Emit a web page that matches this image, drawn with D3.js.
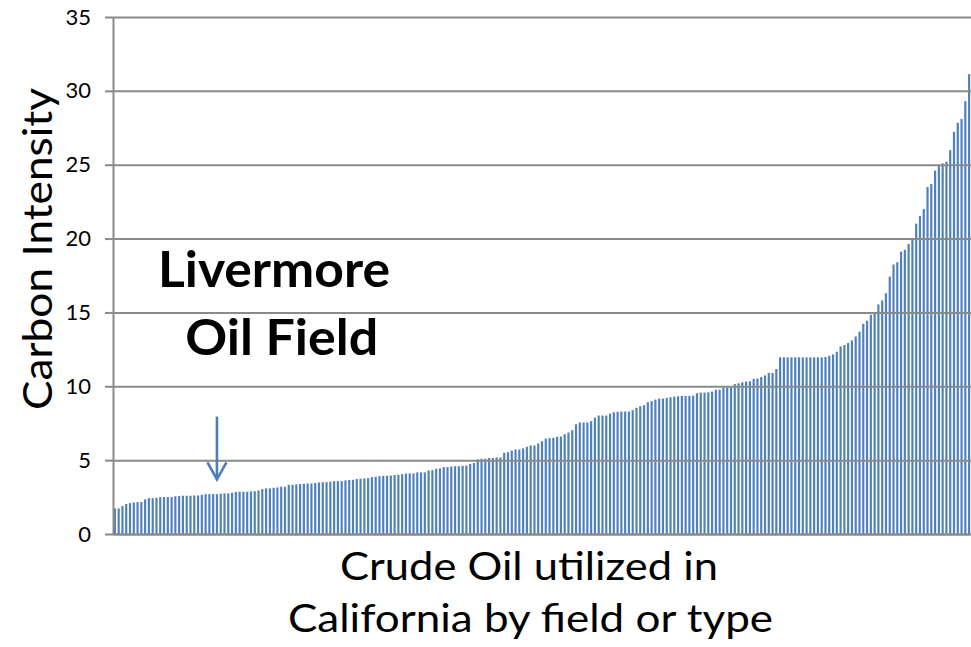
<!DOCTYPE html>
<html>
<head>
<meta charset="utf-8">
<script src="https://cdn.jsdelivr.net/npm/d3@7"></script>
<style>
  html, body { margin: 0; padding: 0; background: #fff; }
  svg { display: block; }
  text { font-family: Lato, "Open Sans", sans-serif; fill: #000; }
</style>
</head>
<body>
<svg id="chart" width="971" height="647"></svg>
<script>
// ---- data ----
const yTicks = [0, 5, 10, 15, 20, 25, 30, 35];
const yTitle = "Carbon Intensity";
const xTitleLines = ["Crude Oil utilized in", "California by field or type"];
const annotationLines = ["Livermore", "Oil Field"];
const livermoreIndex = 27;

const valuesLow = [
  1.73, 1.73, 1.89, 2.03, 2.09, 2.14, 2.16, 2.16, 2.34, 2.43, 2.43, 2.45, 2.50, 2.50, 2.50, 2.50,
  2.55, 2.57, 2.59, 2.59, 2.59, 2.61, 2.61, 2.66, 2.70, 2.70, 2.70, 2.70, 2.73, 2.75, 2.75, 2.79,
  2.84, 2.86, 2.86, 2.86, 2.88, 2.90, 2.95
];
const valuesLowMid = [
  3.04, 3.09, 3.09, 3.13, 3.15, 3.20, 3.20, 3.33, 3.33, 3.36, 3.38, 3.40, 3.42, 3.42, 3.45, 3.49,
  3.51, 3.51, 3.54, 3.58, 3.58, 3.58, 3.63, 3.65, 3.67, 3.72, 3.74, 3.76, 3.78, 3.85, 3.87, 3.92,
  3.94, 3.94, 3.96, 3.99, 4.01
];
const valuesMid = [
  4.05, 4.10, 4.10, 4.10, 4.17, 4.17, 4.17, 4.30, 4.32, 4.41, 4.44, 4.53, 4.53, 4.57, 4.59, 4.59,
  4.62, 4.64, 4.75, 4.80, 5.05, 5.09, 5.09, 5.14, 5.14, 5.18, 5.18, 5.50, 5.54, 5.65, 5.72, 5.72,
  5.79, 5.90, 5.99, 5.99, 6.13, 6.28, 6.46
];
const valuesUpperMid = [
  6.49, 6.51, 6.58, 6.60, 6.76, 6.87, 7.03, 7.43, 7.55, 7.55, 7.55, 7.64, 7.88, 8.02, 8.02, 8.02,
  8.15, 8.24, 8.27, 8.29, 8.29, 8.29, 8.38, 8.54, 8.65, 8.72, 8.92, 8.99, 9.10, 9.17, 9.17, 9.21,
  9.26, 9.30, 9.32, 9.35, 9.35, 9.35, 9.37, 9.53
];
const valuesHighMid = [
  9.57, 9.57, 9.59, 9.64, 9.77, 9.77, 9.91, 9.91, 9.91, 10.16, 10.20, 10.27, 10.32, 10.34, 10.50, 10.52,
  10.63, 10.74, 10.90, 10.90, 11.17, 11.96, 11.96, 11.96, 11.96, 11.96, 11.96, 11.96, 11.96, 11.96, 11.96, 11.96,
  11.96, 11.98, 12.07, 12.16, 12.34, 12.70, 12.79, 12.93
];
const valuesHigh = [
  13.10, 13.38, 13.70, 14.23, 14.44, 14.84, 14.98, 15.54, 15.81, 16.30, 17.43, 18.24, 18.40, 19.12, 19.24, 19.64,
  19.91, 21.01, 21.53, 22.00, 23.49, 23.70, 24.60, 24.98, 25.09, 25.20, 25.99, 27.23, 27.84, 28.10, 29.30, 31.13
];
const values = [].concat(valuesLow, valuesLowMid, valuesMid, valuesUpperMid, valuesHighMid, valuesHigh);
const categories = d3.range(values.length);

// ---- layout ----
const plotLeft = 113, plotRight = 971, plotTop = 17, plotBottom = 534;
const svg = d3.select("#chart");
const fontStack = 'Lato, "Open Sans", sans-serif';

const x = d3.scaleBand().domain(categories).range([plotLeft, plotRight])
  .paddingInner(0.42).paddingOuter(0.21);
const y = d3.scaleLinear().domain([0, 35]).range([plotBottom, plotTop]);

// bars
svg.append("g")
  .selectAll("rect")
  .data(values)
  .join("rect")
  .attr("x", (d, i) => x(i))
  .attr("width", x.bandwidth())
  .attr("y", d => y(d))
  .attr("height", d => y(0) - y(d))
  .attr("fill", "#4F81BD");

// gridlines
const grid = svg.append("g")
  .attr("transform", `translate(${plotLeft},0)`)
  .call(d3.axisLeft(y).tickValues(yTicks).tickSize(-(plotRight - plotLeft)).tickFormat("").tickSizeOuter(0));
grid.select(".domain").remove();
grid.selectAll("line").attr("stroke", "#8a8a8a").attr("stroke-width", 2);

// y axis
const yAxis = svg.append("g")
  .attr("transform", `translate(${plotLeft},0)`)
  .call(d3.axisLeft(y).tickValues(yTicks).tickSize(8).tickPadding(14).tickSizeOuter(0));
yAxis.select(".domain").attr("stroke", "#8a8a8a").attr("stroke-width", 2);
yAxis.selectAll(".tick line").attr("stroke", "#8a8a8a").attr("stroke-width", 2);
yAxis.selectAll(".tick text")
  .attr("font-size", 22)
  .attr("font-family", fontStack)
  .attr("fill", "#000");

// x axis line
const xAxis = svg.append("g")
  .attr("transform", `translate(0,${plotBottom})`)
  .call(d3.axisBottom(x).tickValues([]).tickSizeOuter(0));
xAxis.select(".domain").attr("stroke", "#8a8a8a").attr("stroke-width", 2);

// y title
svg.append("text")
  .attr("transform", "translate(52,249) rotate(-90)")
  .attr("text-anchor", "middle")
  .attr("font-family", fontStack)
  .attr("font-size", 40)
  .attr("textLength", 322)
  .attr("lengthAdjust", "spacingAndGlyphs")
  .text(yTitle);

// x title
const xTitleSpec = [{ cx: 529, base: 580, len: 378 }, { cx: 530.5, base: 632, len: 485 }];
svg.append("g").selectAll("text")
  .data(xTitleLines)
  .join("text")
  .attr("x", (d, i) => xTitleSpec[i].cx)
  .attr("y", (d, i) => xTitleSpec[i].base)
  .attr("text-anchor", "middle")
  .attr("font-family", fontStack)
  .attr("font-size", 38)
  .attr("textLength", (d, i) => xTitleSpec[i].len)
  .attr("lengthAdjust", "spacingAndGlyphs")
  .text(d => d);

// annotation
const annSpec = [{ cx: 274, base: 287, len: 232 }, { cx: 281.7, base: 355, len: 193 }];
svg.append("g").selectAll("text")
  .data(annotationLines)
  .join("text")
  .attr("x", (d, i) => annSpec[i].cx)
  .attr("y", (d, i) => annSpec[i].base)
  .attr("text-anchor", "middle")
  .attr("font-family", fontStack)
  .attr("font-size", 49)
  .attr("font-weight", "bold")
  .attr("textLength", (d, i) => annSpec[i].len)
  .attr("lengthAdjust", "spacingAndGlyphs")
  .text(d => d);

// arrow pointing at the Livermore bar
const ax = x(livermoreIndex) + x.bandwidth() / 2;
const lv = values[livermoreIndex];
const tipY = y(lv + 1.0), topY = y(lv + 5.25);
const arrow = svg.append("g").attr("stroke", "#4A7EBB").attr("stroke-width", 2.6).attr("fill", "none");
arrow.append("line").attr("x1", ax).attr("x2", ax).attr("y1", topY).attr("y2", tipY - 1);
arrow.append("polyline")
  .attr("points", `${ax - 9.5},${tipY - 17} ${ax},${tipY} ${ax + 9.5},${tipY - 17}`)
  .attr("stroke-linejoin", "miter");
</script>
</body>
</html>
